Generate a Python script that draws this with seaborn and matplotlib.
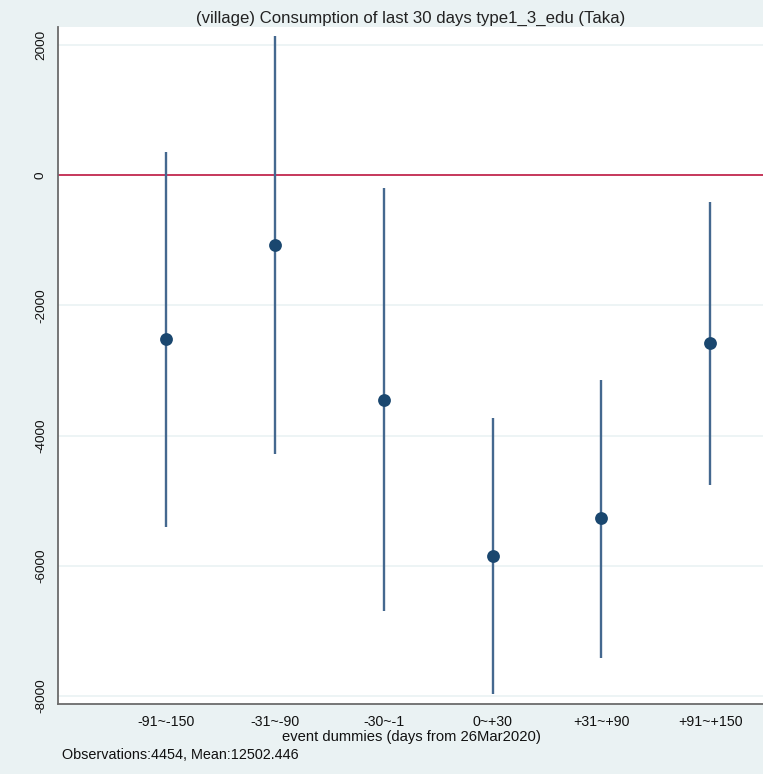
import matplotlib
matplotlib.use("Agg")
import matplotlib.pyplot as plt
import seaborn as sns
import pandas as pd

# Event-study coefficients with 95% confidence intervals
periods = ["-91~-150", "-31~-90", "-30~-1", "0~+30", "+31~+90", "+91~+150"]
coef = [-2520, -1077, -3446, -5846, -5270, -2585]
ci_low = [-5400, -4280, -6690, -7965, -7410, -4760]
ci_high = [354, 2140, -200, -3725, -3140, -410]
y_ticks = [2000, 0, -2000, -4000, -6000, -8000]

title = "(village) Consumption of last 30 days type1_3_edu (Taka)"
x_label = "event dummies (days from 26Mar2020)"
note = "Observations:4454, Mean:12502.446"

bg = "#eaf2f3"
navy = "#1a476f"
ci_color = "#44688f"
ref_red = "#c4294f"

sns.set_theme(style="white")
plt.rcParams["font.family"] = ["Liberation Sans", "DejaVu Sans"]

df = pd.DataFrame({"pos": range(1, len(periods) + 1), "coef": coef,
                   "lo": ci_low, "hi": ci_high})

W, H = 763, 774
fig = plt.figure(figsize=(W / 100, H / 100), dpi=100, facecolor=bg)
ax = fig.add_axes([58 / W, (H - 704) / H, (764 - 58) / W, (704 - 27) / H])
ax.set_facecolor("white")

for y in y_ticks:
    ax.axhline(y, color=bg, lw=1.2, zorder=0)
ax.axhline(0, color=ref_red, lw=1.3, zorder=1)

ax.vlines(df["pos"], df["lo"], df["hi"], color=ci_color, lw=1.7, zorder=2)
sns.scatterplot(data=df, x="pos", y="coef", ax=ax, s=85, color=navy,
                edgecolor=navy, linewidth=0, zorder=3)

ax.set_xlim(0.0074, 6.494)
ax.set_ylim(-8123, 2277)
ax.set_xticks(df["pos"])
ax.set_xticklabels(periods, fontsize=10.2)
ax.set_yticks(y_ticks)
ax.set_yticklabels([str(v) for v in y_ticks], fontsize=9.7, rotation=90,
                   va="center")
ax.tick_params(axis="both", direction="out", length=5, width=1,
               color="#6b6b6b", labelcolor="#111111")
ax.tick_params(axis="y", pad=3)
ax.tick_params(axis="x", pad=3)

for side in ("top", "right"):
    ax.spines[side].set_visible(False)
for side in ("left", "bottom"):
    ax.spines[side].set_color("#6b6b6b")
    ax.spines[side].set_linewidth(1.3)

ax.set_xlabel(x_label, fontsize=10.6, labelpad=1, color="#111111")
ax.set_ylabel("")
ax.set_title(title, fontsize=12.1, pad=3, color="#222222")
fig.text(62 / W, 1 - 755 / H, note, fontsize=10.4, va="center", ha="left",
         color="#111111")

fig.savefig("out.png", dpi=100, facecolor=bg)
